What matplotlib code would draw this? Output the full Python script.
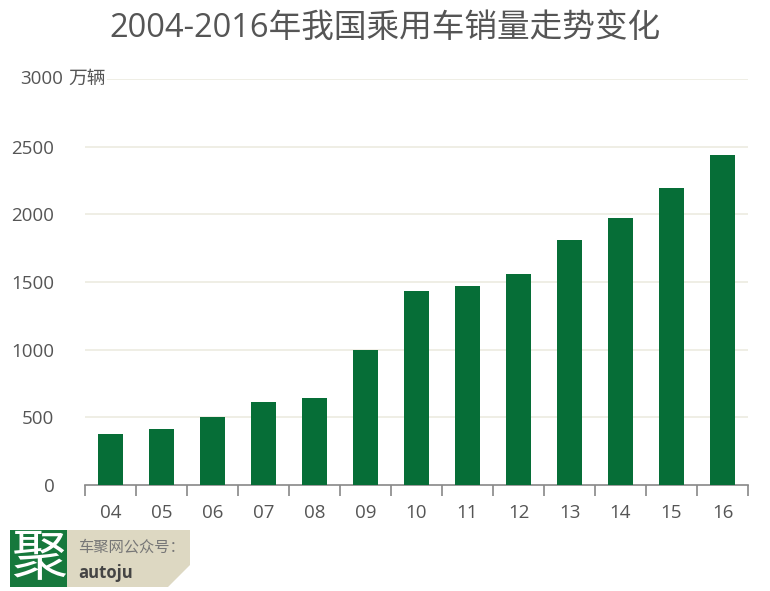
import numpy as np
import matplotlib
matplotlib.use("Agg")
import matplotlib.pyplot as plt
from matplotlib.patches import Rectangle, Polygon

plt.rcParams['font.family'] = ['Open Sans', 'Noto Sans CJK SC', 'DejaVu Sans']

# Data (万辆)
years = ['04', '05', '06', '07', '08', '09', '10', '11', '12', '13', '14', '15', '16']
sales = [377, 414, 503, 614, 644, 998, 1435, 1472, 1561, 1812, 1975, 2197, 2441]
yticks = [0, 500, 1000, 1500, 2000, 2500, 3000]

bar_color = '#066e37'
grid_color = '#ecebe0'
text_color = '#555555'

fig = plt.figure(figsize=(7.7, 5.91), dpi=100)
W, H = 770, 591
ax = fig.add_axes([85 / W, 1 - 485 / H, (748 - 85) / W, (485 - 79) / H])

x = np.arange(len(years))
ax.bar(x, sales, width=0.49, color=bar_color, zorder=3)
ax.set_xlim(-0.5, len(years) - 0.5)
ax.set_ylim(0, 3000)

# horizontal grid
for v in yticks[1:]:
    ax.axhline(v, color=grid_color, lw=1.2, zorder=1)

for s in ['top', 'right', 'left']:
    ax.spines[s].set_visible(False)
ax.spines['bottom'].set_color('#888888')
ax.spines['bottom'].set_linewidth(1.2)

# ticks on category boundaries, labels at centers
ax.set_xticks(np.arange(-0.5, len(years)), minor=False)
ax.set_xticklabels([])
ax.tick_params(axis='x', which='major', length=8, color='#888888', width=1.2)
ax.set_xticks(x, minor=True)
ax.set_xticklabels(years, minor=True, fontsize=13.5, color=text_color)
ax.tick_params(axis='x', which='minor', length=0, pad=14)

ax.set_yticks(yticks[:-1])
ax.set_yticklabels([str(v) for v in yticks[:-1]], fontsize=13.5, color=text_color)
ax.tick_params(axis='y', length=0, pad=22)

# top label with unit
fig.text(63 / W, 1 - 79 / H, '3000', ha='right', va='center', fontsize=13.5, color=text_color)
fig.text(68 / W, 1 - 79 / H, '万辆', ha='left', va='center', fontsize=13.5, color=text_color,
         bbox=dict(facecolor='white', edgecolor='none', pad=1))

fig.text(385 / W, 1 - 28 / H, '2004-2016年我国乘用车销量走势变化', ha='center', va='center',
         fontsize=23.5, color=text_color)

# logo block
fig.patches.append(Rectangle((10 / W, 1 - 587 / H), 57 / W, 57 / H, transform=fig.transFigure,
                             facecolor='#16783c', edgecolor='none'))
fig.text(38.5 / W, 1 - 559 / H, '聚', ha='center', va='center', fontsize=40, color='white',
         family='Noto Sans CJK SC')
fig.patches.append(Polygon([(67 / W, 1 - 530 / H), (190 / W, 1 - 530 / H), (190 / W, 1 - 565 / H),
                            (168 / W, 1 - 587 / H), (67 / W, 1 - 587 / H)],
                           closed=True, transform=fig.transFigure,
                           facecolor='#ddd8c2', edgecolor='none'))
fig.text(78 / W, 1 - 547 / H, '车聚网公众号：', ha='left', va='center', fontsize=11, color='#777777',
         family='Noto Sans CJK SC')
fig.text(78 / W, 1 - 573 / H, 'autoju', ha='left', va='center', fontsize=12, color='#444444',
         fontweight='bold')

fig.savefig('out.png', dpi=100)
